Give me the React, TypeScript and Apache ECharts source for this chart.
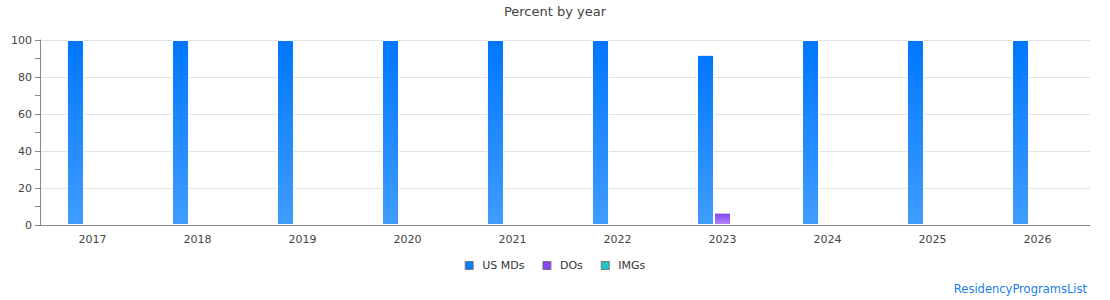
import React, { useEffect, useRef } from "react";
import * as echarts from "echarts";

const years = ["2017", "2018", "2019", "2020", "2021", "2022", "2023", "2024", "2025", "2026"];
const usMDs = [100, 100, 100, 100, 100, 100, 92, 100, 100, 100];
const dos = [0, 0, 0, 0, 0, 0, 6.7, 0, 0, 0];
const imgs = [0, 0, 0, 0, 0, 0, 0, 0, 0, 0];
const yTicks = [0, 20, 40, 60, 80, 100];

const FONT = "DejaVu Sans";

function grad(top: string, bottom: string) {
  return new echarts.graphic.LinearGradient(0, 0, 0, 1, [
    { offset: 0, color: top },
    { offset: 1, color: bottom },
  ]);
}

export default function App() {
  const ref = useRef<HTMLDivElement>(null);

  useEffect(() => {
    if (!ref.current) return;
    const chart = echarts.init(ref.current, null, { renderer: "svg" });
    const barBase = {
      type: "bar" as const,
      barWidth: 17,
      barGap: "0%",
      itemStyle: { borderColor: "#fff", borderWidth: 1 },
    };
    chart.setOption({
      animation: false,
      textStyle: { fontFamily: FONT },
      title: {
        text: "Percent by year",
        left: "center",
        top: 5,
        padding: 0,
        textStyle: { fontFamily: FONT, fontSize: 13, fontWeight: "normal", color: "#444" },
      },
      legend: {
        bottom: 24,
        left: "center",
        itemWidth: 8,
        itemHeight: 8,
        itemGap: 18,
        icon: "rect",
        textStyle: { fontFamily: FONT, fontSize: 11, color: "#333", padding: [0, 0, 0, 4] },
        data: [
          { name: "US MDs", itemStyle: { color: "#0a7cff", borderColor: "#777", borderWidth: 1 } },
          { name: "DOs", itemStyle: { color: "#8844f0", borderColor: "#777", borderWidth: 1 } },
          { name: "IMGs", itemStyle: { color: "#1cc8c8", borderColor: "#777", borderWidth: 1 } },
        ],
      },
      graphic: [
        {
          type: "text",
          right: 23,
          bottom: 5,
          style: {
            text: "ResidencyProgramsList",
            fill: "#1a7ee8",
            fontFamily: FONT,
            fontSize: 11.5,
          },
        },
      ],
      grid: { left: 40, right: 20, top: 40, bottom: 75, containLabel: false },
      xAxis: {
        type: "category",
        data: years,
        z: 5,
        axisLine: { lineStyle: { color: "#888" } },
        axisTick: { show: false },
        axisLabel: { color: "#444", fontSize: 11, fontFamily: FONT, margin: 9 },
      },
      yAxis: {
        type: "value",
        min: 0,
        max: 100,
        interval: 20,
        axisLine: { show: true, lineStyle: { color: "#888" } },
        axisTick: { show: true, length: 5, lineStyle: { color: "#888" } },
        minorTick: { show: true, splitNumber: 2, length: 5, lineStyle: { color: "#888" } },
        splitLine: { lineStyle: { color: "#e2e2e2" } },
        axisLabel: {
          color: "#444",
          fontSize: 11,
          fontFamily: FONT,
          margin: 8,
          formatter: (v: number) => (yTicks.includes(v) ? String(v) : ""),
        },
      },
      series: [
        { ...barBase, name: "US MDs", data: usMDs, itemStyle: { ...barBase.itemStyle, color: grad("#0077ff", "#409cff") } },
        { ...barBase, name: "DOs", data: dos, itemStyle: { ...barBase.itemStyle, color: grad("#7f3ff0", "#b489fb") } },
        { ...barBase, name: "IMGs", data: imgs, itemStyle: { ...barBase.itemStyle, color: grad("#12c2c2", "#6ee0e0") } },
      ],
    });
    return () => chart.dispose();
  }, []);

  return (
    <div
      ref={ref}
      style={{ position: "absolute", left: 0, top: 0, width: 1110, height: 300 }}
    />
  );
}
